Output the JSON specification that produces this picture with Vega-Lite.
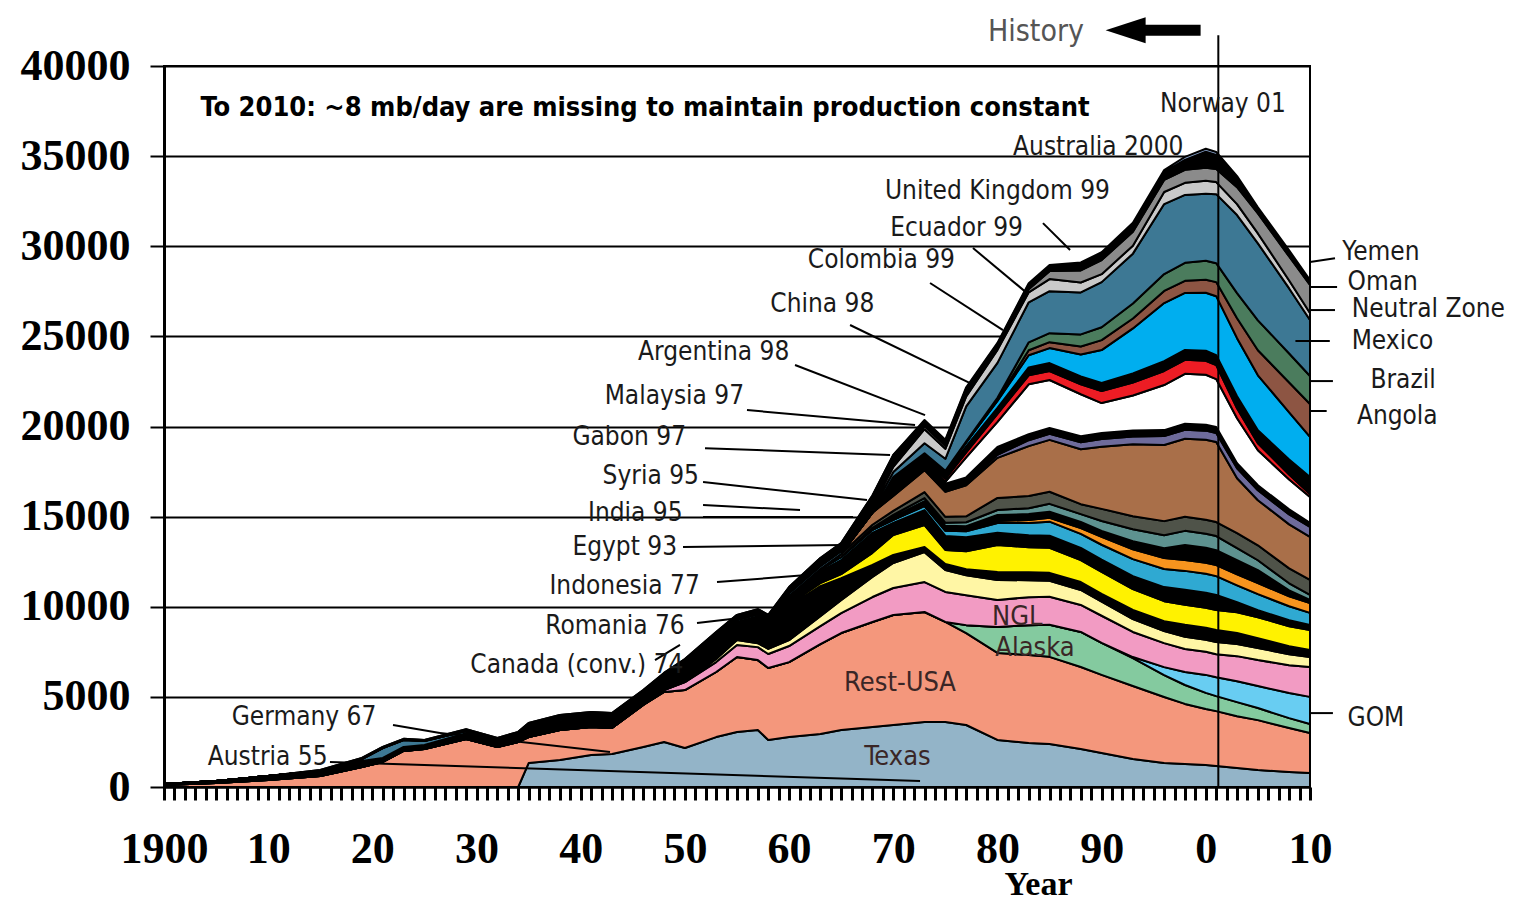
{
"$schema": "https://vega.github.io/schema/vega-lite/v6.json",
"width": 1146, "height": 721,
"autosize": {"type": "none"},
"padding": {"left": 164, "top": 66, "right": 209, "bottom": 115},
"background": "white",
"config": {"view": {"stroke": "black", "strokeWidth": 2}},
"resolve": {"axis": {"x": "independent"}},
"datasets": {
"prod": [
{"yr":1900,"Texas":0,"RestUSA":110,"Alaska":0,"GOM":0,"NGL":0,"Canada":0,"Romania":60,"Indonesia":0,"Egypt":0,"India":0,"Syria":0,"Gabon":0,"Malaysia":0,"Argentina":0,"China":0,"Colombia":0,"Ecuador":0,"UK":0,"Australia":0,"Denmark":0,"Norway":0,"Angola":0,"Brazil":0,"Mexico":0,"NeutralZone":0,"Oman":0,"Other":0,"Yemen":0},
{"yr":1905,"Texas":0,"RestUSA":220,"Alaska":0,"GOM":0,"NGL":0,"Canada":0,"Romania":110,"Indonesia":0,"Egypt":0,"India":0,"Syria":0,"Gabon":0,"Malaysia":0,"Argentina":0,"China":0,"Colombia":0,"Ecuador":0,"UK":0,"Australia":0,"Denmark":0,"Norway":0,"Angola":0,"Brazil":0,"Mexico":0,"NeutralZone":0,"Oman":0,"Other":0,"Yemen":0},
{"yr":1910,"Texas":0,"RestUSA":390,"Alaska":0,"GOM":0,"NGL":0,"Canada":0,"Romania":220,"Indonesia":0,"Egypt":0,"India":0,"Syria":0,"Gabon":0,"Malaysia":0,"Argentina":0,"China":0,"Colombia":0,"Ecuador":0,"UK":0,"Australia":0,"Denmark":0,"Norway":0,"Angola":0,"Brazil":0,"Mexico":0,"NeutralZone":0,"Oman":0,"Other":0,"Yemen":0},
{"yr":1915,"Texas":0,"RestUSA":610,"Alaska":0,"GOM":0,"NGL":0,"Canada":0,"Romania":280,"Indonesia":0,"Egypt":0,"India":0,"Syria":0,"Gabon":0,"Malaysia":0,"Argentina":0,"China":0,"Colombia":0,"Ecuador":0,"UK":0,"Australia":0,"Denmark":0,"Norway":0,"Angola":0,"Brazil":0,"Mexico":0,"NeutralZone":0,"Oman":0,"Other":60,"Yemen":0},
{"yr":1919,"Texas":0,"RestUSA":1110,"Alaska":0,"GOM":0,"NGL":0,"Canada":0,"Romania":330,"Indonesia":0,"Egypt":0,"India":0,"Syria":0,"Gabon":0,"Malaysia":0,"Argentina":0,"China":0,"Colombia":0,"Ecuador":0,"UK":0,"Australia":0,"Denmark":0,"Norway":0,"Angola":0,"Brazil":0,"Mexico":110,"NeutralZone":0,"Oman":0,"Other":60,"Yemen":0},
{"yr":1921,"Texas":0,"RestUSA":1390,"Alaska":0,"GOM":0,"NGL":0,"Canada":0,"Romania":220,"Indonesia":0,"Egypt":0,"India":0,"Syria":0,"Gabon":0,"Malaysia":0,"Argentina":0,"China":0,"Colombia":0,"Ecuador":0,"UK":0,"Australia":0,"Denmark":0,"Norway":0,"Angola":0,"Brazil":0,"Mexico":550,"NeutralZone":0,"Oman":0,"Other":60,"Yemen":0},
{"yr":1923,"Texas":0,"RestUSA":2000,"Alaska":0,"GOM":0,"NGL":0,"Canada":0,"Romania":220,"Indonesia":0,"Egypt":0,"India":0,"Syria":0,"Gabon":0,"Malaysia":0,"Argentina":0,"China":0,"Colombia":0,"Ecuador":0,"UK":0,"Australia":0,"Denmark":0,"Norway":0,"Angola":0,"Brazil":0,"Mexico":390,"NeutralZone":0,"Oman":0,"Other":60,"Yemen":0},
{"yr":1925,"Texas":0,"RestUSA":2110,"Alaska":0,"GOM":0,"NGL":0,"Canada":0,"Romania":220,"Indonesia":0,"Egypt":0,"India":0,"Syria":0,"Gabon":0,"Malaysia":0,"Argentina":0,"China":0,"Colombia":0,"Ecuador":0,"UK":0,"Australia":0,"Denmark":0,"Norway":0,"Angola":0,"Brazil":0,"Mexico":220,"NeutralZone":0,"Oman":0,"Other":60,"Yemen":0},
{"yr":1929,"Texas":0,"RestUSA":2660,"Alaska":0,"GOM":0,"NGL":0,"Canada":0,"Romania":330,"Indonesia":0,"Egypt":0,"India":0,"Syria":0,"Gabon":0,"Malaysia":0,"Argentina":0,"China":0,"Colombia":0,"Ecuador":0,"UK":0,"Australia":0,"Denmark":0,"Norway":0,"Angola":0,"Brazil":0,"Mexico":110,"NeutralZone":0,"Oman":0,"Other":110,"Yemen":0},
{"yr":1932,"Texas":0,"RestUSA":2220,"Alaska":0,"GOM":0,"NGL":0,"Canada":0,"Romania":330,"Indonesia":0,"Egypt":0,"India":0,"Syria":0,"Gabon":0,"Malaysia":0,"Argentina":0,"China":0,"Colombia":0,"Ecuador":0,"UK":0,"Australia":0,"Denmark":0,"Norway":0,"Angola":0,"Brazil":0,"Mexico":60,"NeutralZone":0,"Oman":0,"Other":110,"Yemen":0},
{"yr":1934,"Texas":0,"RestUSA":2500,"Alaska":0,"GOM":0,"NGL":0,"Canada":0,"Romania":390,"Indonesia":0,"Egypt":0,"India":0,"Syria":0,"Gabon":0,"Malaysia":0,"Argentina":0,"China":0,"Colombia":0,"Ecuador":0,"UK":0,"Australia":0,"Denmark":0,"Norway":0,"Angola":0,"Brazil":0,"Mexico":60,"NeutralZone":0,"Oman":0,"Other":110,"Yemen":0},
{"yr":1935,"Texas":1330,"RestUSA":1440,"Alaska":0,"GOM":0,"NGL":0,"Canada":0,"Romania":550,"Indonesia":0,"Egypt":0,"India":0,"Syria":0,"Gabon":0,"Malaysia":0,"Argentina":0,"China":0,"Colombia":0,"Ecuador":0,"UK":0,"Australia":0,"Denmark":0,"Norway":0,"Angola":0,"Brazil":0,"Mexico":60,"NeutralZone":0,"Oman":0,"Other":170,"Yemen":0},
{"yr":1938,"Texas":1500,"RestUSA":1660,"Alaska":0,"GOM":0,"NGL":0,"Canada":0,"Romania":550,"Indonesia":0,"Egypt":0,"India":0,"Syria":0,"Gabon":0,"Malaysia":0,"Argentina":0,"China":0,"Colombia":0,"Ecuador":0,"UK":0,"Australia":0,"Denmark":0,"Norway":0,"Angola":0,"Brazil":0,"Mexico":60,"NeutralZone":0,"Oman":0,"Other":220,"Yemen":0},
{"yr":1941,"Texas":1780,"RestUSA":1550,"Alaska":0,"GOM":0,"NGL":0,"Canada":0,"Romania":550,"Indonesia":0,"Egypt":0,"India":0,"Syria":0,"Gabon":0,"Malaysia":0,"Argentina":0,"China":0,"Colombia":0,"Ecuador":0,"UK":0,"Australia":0,"Denmark":0,"Norway":0,"Angola":0,"Brazil":0,"Mexico":60,"NeutralZone":0,"Oman":0,"Other":220,"Yemen":0},
{"yr":1943,"Texas":1830,"RestUSA":1440,"Alaska":0,"GOM":0,"NGL":0,"Canada":0,"Romania":550,"Indonesia":0,"Egypt":0,"India":0,"Syria":0,"Gabon":0,"Malaysia":0,"Argentina":0,"China":0,"Colombia":0,"Ecuador":0,"UK":0,"Australia":0,"Denmark":0,"Norway":0,"Angola":0,"Brazil":0,"Mexico":60,"NeutralZone":0,"Oman":0,"Other":220,"Yemen":0},
{"yr":1946,"Texas":2220,"RestUSA":2330,"Alaska":0,"GOM":0,"NGL":0,"Canada":0,"Romania":550,"Indonesia":0,"Egypt":0,"India":0,"Syria":0,"Gabon":0,"Malaysia":0,"Argentina":0,"China":0,"Colombia":0,"Ecuador":0,"UK":0,"Australia":0,"Denmark":0,"Norway":0,"Angola":0,"Brazil":0,"Mexico":60,"NeutralZone":0,"Oman":0,"Other":220,"Yemen":0},
{"yr":1948,"Texas":2500,"RestUSA":2770,"Alaska":0,"GOM":0,"NGL":110,"Canada":0,"Romania":670,"Indonesia":0,"Egypt":0,"India":0,"Syria":0,"Gabon":0,"Malaysia":0,"Argentina":0,"China":0,"Colombia":0,"Ecuador":0,"UK":0,"Australia":0,"Denmark":0,"Norway":0,"Angola":0,"Brazil":0,"Mexico":60,"NeutralZone":0,"Oman":0,"Other":220,"Yemen":0},
{"yr":1950,"Texas":2160,"RestUSA":3220,"Alaska":0,"GOM":0,"NGL":440,"Canada":0,"Romania":1000,"Indonesia":0,"Egypt":0,"India":0,"Syria":0,"Gabon":0,"Malaysia":0,"Argentina":0,"China":0,"Colombia":0,"Ecuador":0,"UK":0,"Australia":0,"Denmark":0,"Norway":0,"Angola":0,"Brazil":0,"Mexico":60,"NeutralZone":0,"Oman":0,"Other":220,"Yemen":0},
{"yr":1953,"Texas":2770,"RestUSA":3610,"Alaska":0,"GOM":0,"NGL":550,"Canada":170,"Romania":1110,"Indonesia":0,"Egypt":0,"India":0,"Syria":0,"Gabon":0,"Malaysia":0,"Argentina":0,"China":0,"Colombia":0,"Ecuador":0,"UK":0,"Australia":0,"Denmark":0,"Norway":0,"Angola":0,"Brazil":0,"Mexico":110,"NeutralZone":0,"Oman":0,"Other":280,"Yemen":0},
{"yr":1955,"Texas":3050,"RestUSA":4160,"Alaska":0,"GOM":0,"NGL":670,"Canada":280,"Romania":1000,"Indonesia":0,"Egypt":0,"India":0,"Syria":0,"Gabon":0,"Malaysia":0,"Argentina":0,"China":0,"Colombia":0,"Ecuador":0,"UK":0,"Australia":0,"Denmark":0,"Norway":0,"Angola":0,"Brazil":0,"Mexico":110,"NeutralZone":0,"Oman":0,"Other":280,"Yemen":0},
{"yr":1957,"Texas":3160,"RestUSA":3880,"Alaska":0,"GOM":0,"NGL":720,"Canada":220,"Romania":1440,"Indonesia":60,"Egypt":0,"India":0,"Syria":0,"Gabon":0,"Malaysia":0,"Argentina":0,"China":0,"Colombia":0,"Ecuador":0,"UK":0,"Australia":0,"Denmark":0,"Norway":0,"Angola":0,"Brazil":0,"Mexico":110,"NeutralZone":0,"Oman":0,"Other":280,"Yemen":0},
{"yr":1958,"Texas":2610,"RestUSA":3990,"Alaska":0,"GOM":0,"NGL":780,"Canada":280,"Romania":1440,"Indonesia":60,"Egypt":0,"India":0,"Syria":0,"Gabon":0,"Malaysia":0,"Argentina":0,"China":0,"Colombia":0,"Ecuador":0,"UK":0,"Australia":0,"Denmark":0,"Norway":0,"Angola":0,"Brazil":0,"Mexico":110,"NeutralZone":0,"Oman":0,"Other":280,"Yemen":0},
{"yr":1960,"Texas":2770,"RestUSA":4160,"Alaska":0,"GOM":0,"NGL":890,"Canada":330,"Romania":1890,"Indonesia":110,"Egypt":440,"India":0,"Syria":0,"Gabon":0,"Malaysia":0,"Argentina":0,"China":0,"Colombia":0,"Ecuador":0,"UK":0,"Australia":0,"Denmark":0,"Norway":0,"Angola":0,"Brazil":0,"Mexico":170,"NeutralZone":0,"Oman":0,"Other":330,"Yemen":0},
{"yr":1963,"Texas":2940,"RestUSA":4990,"Alaska":0,"GOM":0,"NGL":1000,"Canada":550,"Romania":1660,"Indonesia":170,"Egypt":670,"India":110,"Syria":0,"Gabon":0,"Malaysia":0,"Argentina":0,"China":0,"Colombia":0,"Ecuador":0,"UK":0,"Australia":0,"Denmark":0,"Norway":0,"Angola":0,"Brazil":0,"Mexico":170,"NeutralZone":0,"Oman":0,"Other":440,"Yemen":0},
{"yr":1965,"Texas":3160,"RestUSA":5380,"Alaska":0,"GOM":0,"NGL":1110,"Canada":720,"Romania":1220,"Indonesia":220,"Egypt":780,"India":170,"Syria":0,"Gabon":0,"Malaysia":0,"Argentina":170,"China":0,"Colombia":0,"Ecuador":0,"UK":0,"Australia":0,"Denmark":0,"Norway":0,"Angola":0,"Brazil":0,"Mexico":170,"NeutralZone":0,"Oman":0,"Other":440,"Yemen":0},
{"yr":1968,"Texas":3330,"RestUSA":5820,"Alaska":0,"GOM":0,"NGL":1390,"Canada":1110,"Romania":670,"Indonesia":670,"Egypt":1110,"India":170,"Syria":0,"Gabon":0,"Malaysia":110,"Argentina":170,"China":670,"Colombia":0,"Ecuador":0,"UK":0,"Australia":0,"Denmark":0,"Norway":0,"Angola":0,"Brazil":0,"Mexico":170,"NeutralZone":170,"Oman":60,"Other":550,"Yemen":0},
{"yr":1970,"Texas":3440,"RestUSA":6100,"Alaska":0,"GOM":0,"NGL":1500,"Canada":1390,"Romania":440,"Indonesia":1110,"Egypt":670,"India":170,"Syria":0,"Gabon":170,"Malaysia":110,"Argentina":220,"China":830,"Colombia":60,"Ecuador":440,"UK":0,"Australia":110,"Denmark":440,"Norway":0,"Angola":0,"Brazil":0,"Mexico":280,"NeutralZone":280,"Oman":110,"Other":550,"Yemen":0},
{"yr":1973,"Texas":3610,"RestUSA":6100,"Alaska":0,"GOM":0,"NGL":1660,"Canada":1660,"Romania":280,"Indonesia":1220,"Egypt":830,"India":220,"Syria":60,"Gabon":220,"Malaysia":170,"Argentina":330,"China":1220,"Colombia":110,"Ecuador":330,"UK":0,"Australia":110,"Denmark":330,"Norway":60,"Angola":0,"Brazil":0,"Mexico":550,"NeutralZone":780,"Oman":170,"Other":280,"Yemen":60},
{"yr":1975,"Texas":3610,"RestUSA":5550,"Alaska":0,"GOM":0,"NGL":1660,"Canada":1220,"Romania":330,"Indonesia":780,"Egypt":780,"India":280,"Syria":60,"Gabon":220,"Malaysia":170,"Argentina":330,"China":1390,"Colombia":110,"Ecuador":330,"UK":110,"Australia":170,"Denmark":330,"Norway":110,"Angola":0,"Brazil":0,"Mexico":670,"NeutralZone":550,"Oman":170,"Other":280,"Yemen":60},
{"yr":1977,"Texas":3440,"RestUSA":5100,"Alaska":440,"GOM":0,"NGL":1660,"Canada":1110,"Romania":330,"Indonesia":1000,"Egypt":780,"India":330,"Syria":60,"Gabon":220,"Malaysia":220,"Argentina":330,"China":1720,"Colombia":110,"Ecuador":330,"UK":1110,"Australia":280,"Denmark":330,"Norway":220,"Angola":0,"Brazil":60,"Mexico":1940,"NeutralZone":550,"Oman":170,"Other":280,"Yemen":60},
{"yr":1980,"Texas":2610,"RestUSA":4830,"Alaska":1440,"GOM":0,"NGL":1500,"Canada":1110,"Romania":440,"Indonesia":1500,"Egypt":670,"India":550,"Syria":110,"Gabon":330,"Malaysia":280,"Argentina":670,"China":2220,"Colombia":170,"Ecuador":440,"UK":1390,"Australia":440,"Denmark":330,"Norway":390,"Angola":60,"Brazil":110,"Mexico":1940,"NeutralZone":720,"Oman":110,"Other":220,"Yemen":60},
{"yr":1983,"Texas":2440,"RestUSA":4880,"Alaska":1660,"GOM":0,"NGL":1550,"Canada":940,"Romania":440,"Indonesia":1390,"Egypt":670,"India":670,"Syria":170,"Gabon":330,"Malaysia":330,"Argentina":670,"China":2770,"Colombia":330,"Ecuador":330,"UK":2770,"Australia":500,"Denmark":440,"Norway":670,"Angola":280,"Brazil":440,"Mexico":2220,"NeutralZone":550,"Oman":170,"Other":280,"Yemen":60},
{"yr":1985,"Texas":2390,"RestUSA":4830,"Alaska":1780,"GOM":0,"NGL":1550,"Canada":890,"Romania":440,"Indonesia":1390,"Egypt":670,"India":780,"Syria":220,"Gabon":330,"Malaysia":440,"Argentina":670,"China":2880,"Colombia":330,"Ecuador":330,"UK":2660,"Australia":500,"Denmark":440,"Norway":830,"Angola":330,"Brazil":500,"Mexico":2330,"NeutralZone":670,"Oman":440,"Other":280,"Yemen":60},
{"yr":1988,"Texas":2110,"RestUSA":4550,"Alaska":1940,"GOM":0,"NGL":1500,"Canada":830,"Romania":440,"Indonesia":1220,"Egypt":670,"India":780,"Syria":330,"Gabon":330,"Malaysia":440,"Argentina":550,"China":3050,"Colombia":390,"Ecuador":330,"UK":2330,"Australia":550,"Denmark":440,"Norway":1220,"Angola":440,"Brazil":670,"Mexico":2330,"NeutralZone":550,"Oman":670,"Other":330,"Yemen":110},
{"yr":1990,"Texas":1890,"RestUSA":4330,"Alaska":1780,"GOM":0,"NGL":1500,"Canada":780,"Romania":440,"Indonesia":1220,"Egypt":670,"India":830,"Syria":440,"Gabon":330,"Malaysia":550,"Argentina":670,"China":3440,"Colombia":440,"Ecuador":330,"UK":1660,"Australia":670,"Denmark":440,"Norway":1830,"Angola":550,"Brazil":720,"Mexico":2500,"NeutralZone":440,"Oman":780,"Other":330,"Yemen":110},
{"yr":1993,"Texas":1550,"RestUSA":4050,"Alaska":1550,"GOM":60,"NGL":1390,"Canada":720,"Romania":500,"Indonesia":1160,"Egypt":720,"India":940,"Syria":550,"Gabon":440,"Malaysia":670,"Argentina":720,"China":3990,"Colombia":440,"Ecuador":330,"UK":1940,"Australia":720,"Denmark":500,"Norway":2500,"Angola":550,"Brazil":830,"Mexico":2770,"NeutralZone":440,"Oman":780,"Other":390,"Yemen":110},
{"yr":1996,"Texas":1330,"RestUSA":3660,"Alaska":1220,"GOM":440,"NGL":1330,"Canada":670,"Romania":550,"Indonesia":1110,"Egypt":780,"India":1000,"Syria":610,"Gabon":550,"Malaysia":720,"Argentina":780,"China":4220,"Colombia":500,"Ecuador":330,"UK":2500,"Australia":780,"Denmark":550,"Norway":3220,"Angola":670,"Brazil":940,"Mexico":3880,"NeutralZone":670,"Oman":670,"Other":440,"Yemen":110},
{"yr":1998,"Texas":1280,"RestUSA":3330,"Alaska":1050,"GOM":720,"NGL":1280,"Canada":670,"Romania":670,"Indonesia":1110,"Egypt":830,"India":1050,"Syria":610,"Gabon":830,"Malaysia":780,"Argentina":780,"China":4330,"Colombia":500,"Ecuador":330,"UK":2770,"Australia":780,"Denmark":550,"Norway":3160,"Angola":670,"Brazil":1000,"Mexico":3770,"NeutralZone":670,"Oman":720,"Other":550,"Yemen":170},
{"yr":2000,"Texas":1220,"RestUSA":3110,"Alaska":890,"GOM":1000,"NGL":1280,"Canada":670,"Romania":670,"Indonesia":1110,"Egypt":830,"India":1050,"Syria":610,"Gabon":830,"Malaysia":780,"Argentina":780,"China":4440,"Colombia":500,"Ecuador":330,"UK":2770,"Australia":780,"Denmark":550,"Norway":3220,"Angola":720,"Brazil":1050,"Mexico":3720,"NeutralZone":720,"Oman":720,"Other":890,"Yemen":170},
{"yr":2001,"Texas":1160,"RestUSA":3050,"Alaska":830,"GOM":1050,"NGL":1280,"Canada":670,"Romania":670,"Indonesia":1110,"Egypt":830,"India":1050,"Syria":610,"Gabon":830,"Malaysia":780,"Argentina":780,"China":4440,"Colombia":500,"Ecuador":330,"UK":2660,"Australia":780,"Denmark":550,"Norway":3270,"Angola":780,"Brazil":1050,"Mexico":3830,"NeutralZone":670,"Oman":720,"Other":780,"Yemen":170},
{"yr":2003,"Texas":1050,"RestUSA":2880,"Alaska":780,"GOM":1160,"NGL":1390,"Canada":670,"Romania":610,"Indonesia":1160,"Egypt":550,"India":940,"Syria":610,"Gabon":780,"Malaysia":670,"Argentina":830,"China":3050,"Colombia":550,"Ecuador":280,"UK":2500,"Australia":550,"Denmark":670,"Norway":3220,"Angola":1110,"Brazil":1390,"Mexico":4330,"NeutralZone":610,"Oman":940,"Other":440,"Yemen":170},
{"yr":2005,"Texas":940,"RestUSA":2770,"Alaska":670,"GOM":1220,"NGL":1440,"Canada":670,"Romania":550,"Indonesia":1160,"Egypt":390,"India":890,"Syria":610,"Gabon":720,"Malaysia":550,"Argentina":830,"China":2500,"Colombia":550,"Ecuador":280,"UK":1940,"Australia":390,"Denmark":720,"Norway":3050,"Angola":1390,"Brazil":1660,"Mexico":4270,"NeutralZone":550,"Oman":1110,"Other":170,"Yemen":170},
{"yr":2008,"Texas":830,"RestUSA":2440,"Alaska":550,"GOM":1390,"NGL":1550,"Canada":610,"Romania":440,"Indonesia":1110,"Egypt":330,"India":780,"Syria":550,"Gabon":330,"Malaysia":390,"Argentina":830,"China":2440,"Colombia":550,"Ecuador":280,"UK":1660,"Australia":280,"Denmark":830,"Norway":2610,"Angola":1660,"Brazil":1610,"Mexico":3610,"NeutralZone":440,"Oman":1330,"Other":170,"Yemen":170},
{"yr":2010,"Texas":780,"RestUSA":2220,"Alaska":500,"GOM":1500,"NGL":1660,"Canada":550,"Romania":390,"Indonesia":1110,"Egypt":280,"India":670,"Syria":550,"Gabon":170,"Malaysia":280,"Argentina":830,"China":2390,"Colombia":550,"Ecuador":220,"UK":1440,"Australia":170,"Denmark":940,"Norway":2220,"Angola":1830,"Brazil":1550,"Mexico":3110,"NeutralZone":390,"Oman":1550,"Other":170,"Yemen":110}
],
"layers": [
{"k":"Texas","o":1},{"k":"RestUSA","o":2},{"k":"Alaska","o":3},{"k":"GOM","o":4},{"k":"NGL","o":5},{"k":"Canada","o":6},{"k":"Romania","o":7},{"k":"Indonesia","o":8},{"k":"Egypt","o":9},{"k":"India","o":10},{"k":"Syria","o":11},{"k":"Gabon","o":12},{"k":"Malaysia","o":13},{"k":"Argentina","o":14},{"k":"China","o":15},{"k":"Colombia","o":16},{"k":"Ecuador","o":17},{"k":"UK","o":18},{"k":"Australia","o":19},{"k":"Denmark","o":20},{"k":"Norway","o":21},{"k":"Angola","o":22},{"k":"Brazil","o":23},{"k":"Mexico","o":24},{"k":"NeutralZone","o":25},{"k":"Oman","o":26},{"k":"Other","o":27},{"k":"Yemen","o":28}
],
"leaders": [
{"x1":1984.37,"y1":31285,"x2":1986.97,"y2":29790},
{"x1":1977.65,"y1":29900,"x2":1982.84,"y2":27400},
{"x1":1973.53,"y1":27960,"x2":1980.53,"y2":25350},
{"x1":1965.85,"y1":25630,"x2":1977.37,"y2":22410},
{"x1":1960.57,"y1":23410,"x2":1973.05,"y2":20630},
{"x1":1955.96,"y1":20910,"x2":1972.09,"y2":20080},
{"x1":1951.93,"y1":18800,"x2":1969.69,"y2":18420},
{"x1":1951.74,"y1":16920,"x2":1967.48,"y2":15920},
{"x1":1951.74,"y1":15640,"x2":1961.05,"y2":15370},
{"x1":1951.74,"y1":14980,"x2":1966.14,"y2":14980},
{"x1":1949.82,"y1":13310,"x2":1965.18,"y2":13420},
{"x1":1953.08,"y1":11370,"x2":1961.72,"y2":11760},
{"x1":1951.16,"y1":9100,"x2":1955.29,"y2":9370},
{"x1":1947.13,"y1":7040,"x2":1949.53,"y2":7880},
{"x1":1921.98,"y1":3440,"x2":1926.49,"y2":3000},
{"x1":1926.49,"y1":3000,"x2":1942.81,"y2":1940},
{"x1":1915.93,"y1":1390,"x2":1972.57,"y2":330},
{"x1":2010,"y1":29120,"x2":2012.4,"y2":29340},
{"x1":2010,"y1":27740,"x2":2012.6,"y2":27740},
{"x1":2010,"y1":26460,"x2":2012.4,"y2":26460},
{"x1":2008.6,"y1":24740,"x2":2011.9,"y2":24740},
{"x1":2010,"y1":22520,"x2":2012.2,"y2":22520},
{"x1":2010,"y1":20860,"x2":2011.6,"y2":20860},
{"x1":2010,"y1":4100,"x2":2012.2,"y2":4100},
{"x1":2001.2,"y1":0,"x2":2001.2,"y2":41700}
],
"labels": [
{"t":"Norway 01","x":1995.6,"y":37885},
{"t":"Australia 2000","x":1981.5,"y":35500},
{"t":"United Kingdom 99","x":1969.2,"y":33060},
{"t":"Ecuador 99","x":1969.7,"y":31010},
{"t":"Colombia 99","x":1961.8,"y":29230},
{"t":"China 98","x":1958.2,"y":26790},
{"t":"Argentina 98","x":1945.5,"y":24130},
{"t":"Malaysia 97","x":1942.3,"y":21690},
{"t":"Gabon 97","x":1939.2,"y":19410},
{"t":"Syria 95","x":1942.1,"y":17250},
{"t":"India 95","x":1940.7,"y":15200},
{"t":"Egypt 93","x":1939.2,"y":13310},
{"t":"Indonesia 77","x":1937.0,"y":11150},
{"t":"Romania 76","x":1936.6,"y":8930},
{"t":"Canada (conv.) 74","x":1929.4,"y":6770},
{"t":"Germany 67","x":1906.5,"y":3880},
{"t":"Austria 55","x":1904.2,"y":1660},
{"t":"Yemen","x":2013.1,"y":29680},
{"t":"Oman","x":2013.6,"y":28020},
{"t":"Neutral Zone","x":2014.0,"y":26500},
{"t":"Mexico","x":2014.0,"y":24740},
{"t":"Brazil","x":2015.8,"y":22580},
{"t":"Angola","x":2014.5,"y":20580},
{"t":"GOM","x":2013.6,"y":3830}
],
"inner": [
{"t":"Rest-USA","x":1970.65,"y":5770},
{"t":"Texas","x":1970.4,"y":1660},
{"t":"NGL","x":1981.9,"y":9430},
{"t":"Alaska","x":1983.6,"y":7710}
]
},
"layer": [
{
"data": {"name": "prod"},
"transform": [
{"fold": ["Texas","RestUSA","Alaska","GOM","NGL","Canada","Romania","Indonesia","Egypt","India","Syria","Gabon","Malaysia","Argentina","China","Colombia","Ecuador","UK","Australia","Denmark","Norway","Angola","Brazil","Mexico","NeutralZone","Oman","Other","Yemen"], "as": ["country","kbd"]},
{"lookup": "country", "from": {"data": {"name": "layers"}, "key": "k", "fields": ["o"]}}
],
"mark": {"type": "area", "stroke": "black", "strokeWidth": 2, "strokeJoin": "round", "interpolate": "linear"},
"encoding": {
"x": {"field": "yr", "type": "quantitative",
 "scale": {"domain": [1900, 2010], "nice": false, "zero": false},
 "axis": {"orient": "bottom", "values": [1900,1901,1902,1903,1904,1905,1906,1907,1908,1909,1910,1911,1912,1913,1914,1915,1916,1917,1918,1919,1920,1921,1922,1923,1924,1925,1926,1927,1928,1929,1930,1931,1932,1933,1934,1935,1936,1937,1938,1939,1940,1941,1942,1943,1944,1945,1946,1947,1948,1949,1950,1951,1952,1953,1954,1955,1956,1957,1958,1959,1960,1961,1962,1963,1964,1965,1966,1967,1968,1969,1970,1971,1972,1973,1974,1975,1976,1977,1978,1979,1980,1981,1982,1983,1984,1985,1986,1987,1988,1989,1990,1991,1992,1993,1994,1995,1996,1997,1998,1999,2000,2001,2002,2003,2004,2005,2006,2007,2008,2009,2010],
  "labels": false,
  "tickSize": 13, "tickWidth": 3, "tickColor": "black",
  "domainColor": "black", "domainWidth": 2, "grid": false, "title": null}},
"y": {"field": "kbd", "type": "quantitative", "stack": "zero",
 "scale": {"domain": [0, 40000], "nice": false},
 "axis": {"values": [0,5000,10000,15000,20000,25000,30000,35000,40000], "format": "d",
  "labelFont": "Liberation Serif", "labelFontWeight": "bold", "labelFontSize": 44, "labelColor": "black", "labelPadding": 20,
  "tickSize": 14, "tickWidth": 2, "tickColor": "black",
  "domainColor": "black", "domainWidth": 3,
  "grid": true, "gridColor": "black", "gridWidth": 2, "gridOpacity": 1, "title": null}},
"color": {"field": "country", "type": "nominal", "legend": null,
 "scale": {"domain": ["Texas","RestUSA","Alaska","GOM","NGL","Canada","Romania","Indonesia","Egypt","India","Syria","Gabon","Malaysia","Argentina","China","Colombia","Ecuador","UK","Australia","Denmark","Norway","Angola","Brazil","Mexico","NeutralZone","Oman","Other","Yemen"],
  "range": ["#93B4C8","#F4977C","#84CA9F","#68CDF2","#F29BC3","#FFF6A5","#000000","#FFF200","#000000","#2FA9D2","#F7941E","#000000","#5E9290","#4F5349","#A96F49","#6E6B9B","#000000","#FFFFFF","#ED1C24","#000000","#00AEEF","#8D5543","#4B7C5D","#3D7894","#C9C9C9","#8B8B8B","#000000","#8DA9D4"]}},
"order": {"field": "o", "type": "quantitative", "sort": "ascending"}
}
},
{
"data": {"name": "leaders"},
"mark": {"type": "rule", "color": "black", "strokeWidth": 2, "clip": false},
"encoding": {
"x": {"field": "x1", "type": "quantitative", "axis": null},
"x2": {"field": "x2"},
"y": {"field": "y1", "type": "quantitative"},
"y2": {"field": "y2"}
}
},
{
"data": {"values": [{"x1": 1993.6, "x2": 1999.5, "y": 41990}]},
"mark": {"type": "rule", "color": "black", "strokeWidth": 11, "clip": false},
"encoding": {
"x": {"field": "x1", "type": "quantitative", "axis": null},
"x2": {"field": "x2"},
"y": {"field": "y", "type": "quantitative"}
}
},
{
"data": {"values": [{"x": 1992.3, "y": 41990}]},
"mark": {"type": "point", "shape": "M -1 0 L 1 -0.65 L 1 0.65 Z", "size": 1600, "filled": true, "color": "black", "opacity": 1, "clip": false},
"encoding": {
"x": {"field": "x", "type": "quantitative", "axis": null},
"y": {"field": "y", "type": "quantitative"}
}
},
{
"data": {"name": "labels"},
"mark": {"type": "text", "align": "left", "baseline": "middle", "font": "DejaVu Sans Condensed, Liberation Sans, sans-serif", "fontSize": 26, "fill": "#1a1a1a", "clip": false},
"encoding": {
"x": {"field": "x", "type": "quantitative", "axis": null},
"y": {"field": "y", "type": "quantitative"},
"text": {"field": "t"}
}
},
{
"data": {"name": "inner"},
"mark": {"type": "text", "align": "center", "baseline": "middle", "font": "DejaVu Sans Condensed, Liberation Sans, sans-serif", "fontSize": 27, "fill": "#3a2626", "clip": false},
"encoding": {
"x": {"field": "x", "type": "quantitative",
 "axis": {"orient": "bottom", "values": [1900,1910,1920,1930,1940,1950,1960,1970,1980,1990,2000,2010],
  "labelExpr": "datum.value == 1900 ? '1900' : '' + (datum.value % 100)",
  "labelOverlap": false, "labelFlush": false,
  "labelFont": "Liberation Serif", "labelFontWeight": "bold", "labelFontSize": 44, "labelColor": "black", "labelPadding": 27,
  "ticks": true, "tickSize": 13, "tickOpacity": 0, "domain": false, "grid": false,
  "title": "Year", "titleFont": "Liberation Serif", "titleFontWeight": "bold", "titleFontSize": 34, "titleColor": "black",
  "titleX": 874, "titleY": 97, "titleAlign": "center", "titleBaseline": "middle"}},
"y": {"field": "y", "type": "quantitative"},
"text": {"field": "t"}
}
},
{
"data": {"values": [{"t": "History", "x": 1983.7, "y": 41880}]},
"mark": {"type": "text", "align": "center", "baseline": "middle", "font": "DejaVu Sans Condensed, Liberation Sans, sans-serif", "fontSize": 30, "fill": "#555555", "clip": false},
"encoding": {
"x": {"field": "x", "type": "quantitative", "axis": null},
"y": {"field": "y", "type": "quantitative"},
"text": {"field": "t"}
}
},
{
"data": {"values": [{"t": "To 2010: ~8 mb/day are missing to maintain production constant", "x": 1903.5, "y": 37660}]},
"mark": {"type": "text", "align": "left", "baseline": "middle", "font": "DejaVu Sans Condensed, Liberation Sans, sans-serif", "fontWeight": "bold", "fontSize": 27, "fill": "black", "clip": false},
"encoding": {
"x": {"field": "x", "type": "quantitative", "axis": null},
"y": {"field": "y", "type": "quantitative"},
"text": {"field": "t"}
}
}
]
}
